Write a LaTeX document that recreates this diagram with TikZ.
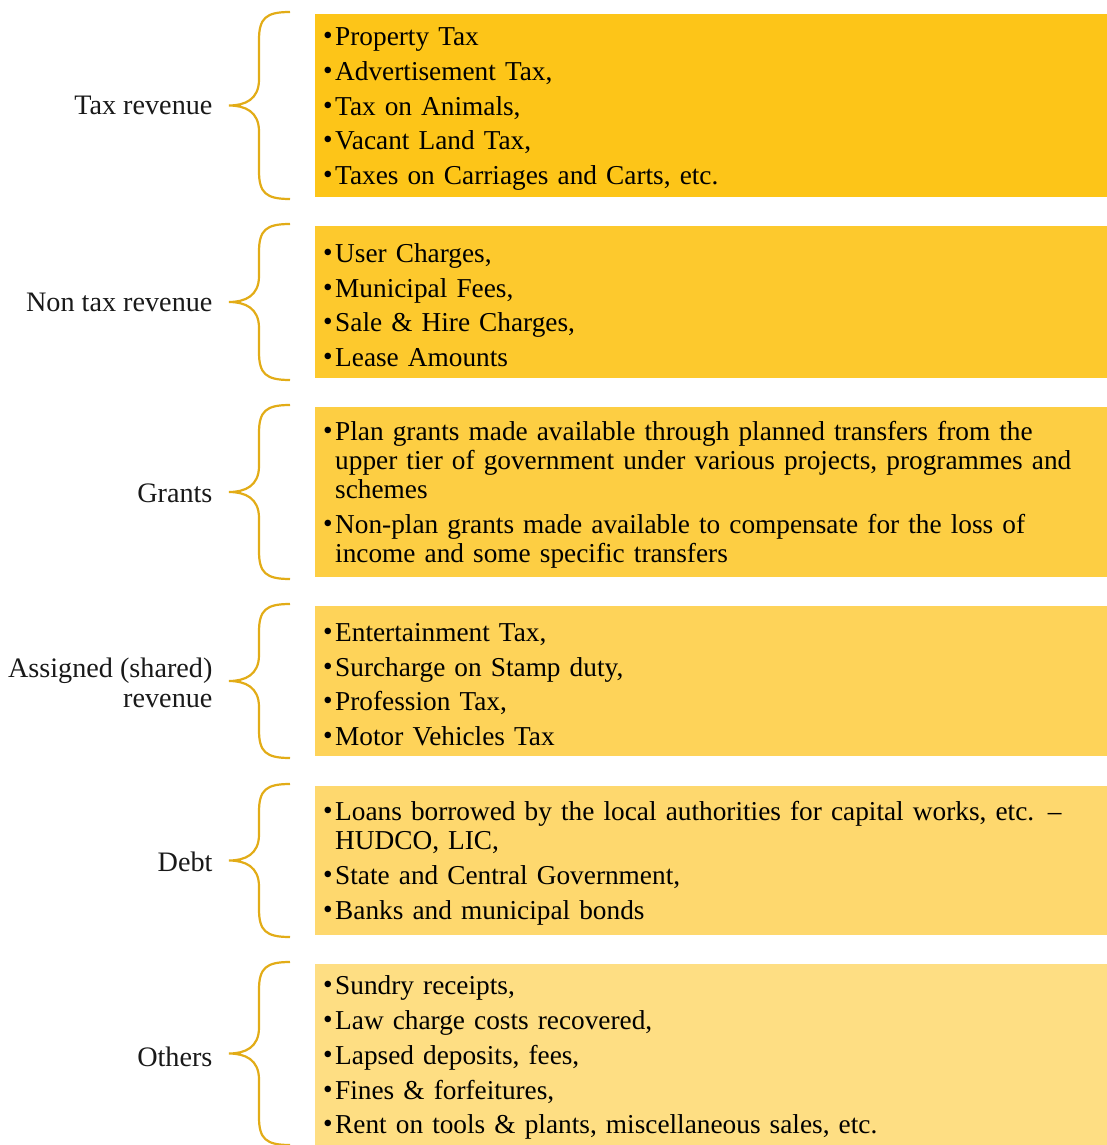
\documentclass[tikz,border=0pt]{standalone}
\usepackage{fontspec}
\setmainfont{Liberation Serif}
\definecolor{c1}{RGB}{253,197,24}
\definecolor{c2}{RGB}{253,201,45}
\definecolor{c3}{RGB}{253,206,67}
\definecolor{c4}{RGB}{254,211,89}
\definecolor{c5}{RGB}{254,216,110}
\definecolor{c6}{RGB}{254,222,131}
\definecolor{bracec}{RGB}{226,172,23}
\newcommand{\bul}{\par\hangindent=12pt\hangafter=1\noindent\makebox[12pt][l]{\raisebox{1pt}{\textbullet}}\ignorespaces}
\newcommand{\boxstart}{\parskip=5.8pt\relax}
\newcommand{\boxend}{\par}
\begin{document}
\begin{tikzpicture}[x=1pt,y=-1pt,
  box/.style={anchor=north west, inner sep=0pt, minimum width=792pt, draw=none},
  txt/.style={anchor=west, inner xsep=8pt, inner ysep=0pt, text width=776pt, align=left,
     font=\fontsize{27.3}{29}\selectfont},
  lbl/.style={anchor=east, align=right, font=\fontsize{28.2}{30}\selectfont, text=black!90},
  brc/.style={draw=bracec, line width=2.2pt}]
\useasboundingbox (0,0) rectangle (1107,1145);
\newcommand{\mybrace}[3]{% top, bottom, name
  \coordinate (#3t) at (290,#1);
  \coordinate (#3b) at (290,#2);
  \coordinate (#3m) at (229,{(#1+#2)/2});
  \draw[brc] (#3t) .. controls (266,#1) and (259,{#1+6}) .. (259,{#1+28})
     -- (259,{(#1+#2)/2-26}) .. controls (259,{(#1+#2)/2-6}) and (245,{(#1+#2)/2}) .. (#3m)
     .. controls (245,{(#1+#2)/2}) and (259,{(#1+#2)/2+6}) .. (259,{(#1+#2)/2+26})
     -- (259,{#2-28}) .. controls (259,{#2-6}) and (266,#2) .. (#3b);}
% boxes
\node[box, fill=c1, minimum height=183pt] (b1) at (315,14) {};
\node[box, fill=c2, minimum height=152pt] (b2) at (315,226) {};
\node[box, fill=c3, minimum height=170pt] (b3) at (315,407) {};
\node[box, fill=c4, minimum height=150pt] (b4) at (315,606) {};
\node[box, fill=c5, minimum height=149pt] (b5) at (315,786) {};
\node[box, fill=c6, minimum height=181pt] (b6) at (315,964) {};
% box texts
\node[txt] (t1) at ([yshift=5pt]b1.west) {\boxstart
\bul Property Tax
\bul Advertisement Tax,
\bul Tax on Animals,
\bul Vacant Land Tax,
\bul Taxes on Carriages and Carts, etc.\boxend};
\node[txt] (t2) at ([yshift=5pt]b2.west) {\boxstart
\bul User Charges,
\bul Municipal Fees,
\bul Sale \& Hire Charges,
\bul Lease Amounts\boxend};
\node[txt] (t3) at ([yshift=5pt]b3.west) {\boxstart
\bul Plan grants made available through planned transfers from the\newline upper tier of government under various projects, programmes and\newline schemes
\bul Non-plan grants made available to compensate for the loss of\newline income and some specific transfers\boxend};
\node[txt] (t4) at ([yshift=5pt]b4.west) {\boxstart
\bul Entertainment Tax,
\bul Surcharge on Stamp duty,
\bul Profession Tax,
\bul Motor Vehicles Tax\boxend};
\node[txt] (t5) at ([yshift=5pt]b5.west) {\boxstart
\bul Loans borrowed by the local authorities for capital works, etc. –\newline HUDCO, LIC,
\bul State and Central Government,
\bul Banks and municipal bonds\boxend};
\node[txt] (t6) at ([yshift=5pt]b6.west) {\boxstart
\bul Sundry receipts,
\bul Law charge costs recovered,
\bul Lapsed deposits, fees,
\bul Fines \& forfeitures,
\bul Rent on tools \& plants, miscellaneous sales, etc.\boxend};
% braces
\mybrace{12}{199}{r1}
\mybrace{224}{380}{r2}
\mybrace{405}{579}{r3}
\mybrace{604}{758}{r4}
\mybrace{784}{937}{r5}
\mybrace{962}{1145}{r6}
% labels
\node[lbl] (l1) at (216,105) {Tax revenue};
\node[lbl] (l2) at (216,302) {Non tax revenue};
\node[lbl] (l3) at (216,493) {Grants};
\node[lbl] (l4) at (216,683) {Assigned (shared)\\revenue};
\node[lbl] (l5) at (216,862) {Debt};
\node[lbl] (l6) at (216,1057) {Others};
\end{tikzpicture}
\end{document}
